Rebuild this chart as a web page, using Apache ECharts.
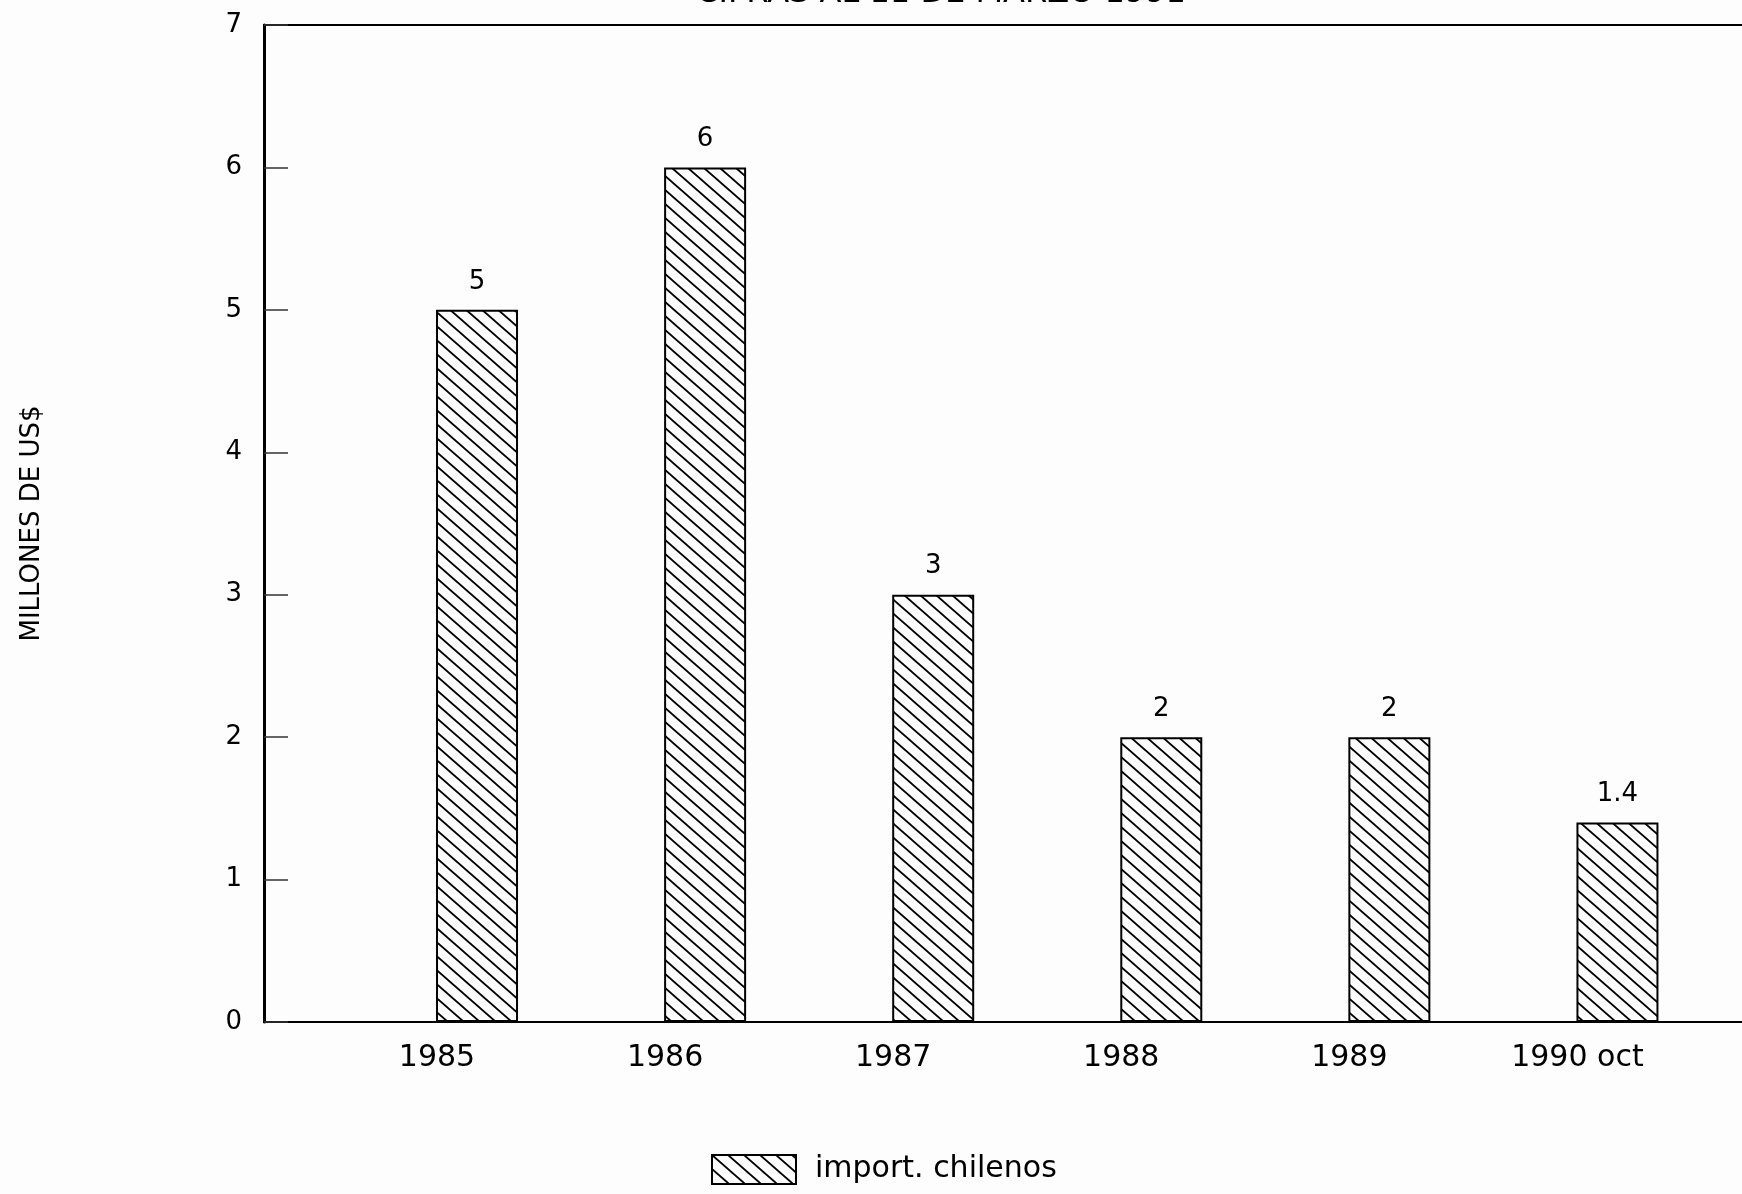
<!DOCTYPE html>
<html><head><meta charset="utf-8">
<script src="https://cdn.jsdelivr.net/npm/echarts@6/dist/echarts.min.js"></script>
<style>html,body{margin:0;padding:0;background:#fdfdfd}#c{width:1742px;height:1194px}</style>
</head><body><div id="c"></div>
<script>
const categories = ['1985', '1986', '1987', '1988', '1989', '1990 oct'];
const imports = [5, 6, 3, 2, 2, 1.4];
const seriesName = 'import. chilenos';
const yTitle = 'MILLONES DE US$';
const topTitle = 'CIFRAS AL 11 DE MARZO 1991';
const categoryIndex = categories.map((c, i) => i);

function hatch() {
  const c = document.createElement('canvas');
  c.width = 16; c.height = 14;
  const g = c.getContext('2d');
  g.fillStyle = '#fdfdfd'; g.fillRect(0, 0, 16, 14);
  g.strokeStyle = '#000'; g.lineWidth = 1.8;
  for (const dx of [-16, 0, 16]) {
    g.beginPath(); g.moveTo(dx - 16, -14); g.lineTo(dx + 32, 28); g.stroke();
  }
  return c;
}
const FONT = 'DejaVu Sans';
const chart = echarts.init(document.getElementById('c'), null, {renderer: 'canvas'});
chart.setOption({
  backgroundColor: '#fdfdfd',
  animation: false,
  textStyle: {fontFamily: FONT, color: '#000'},
  graphic: [{
    type: 'text', x: 941, y: -22,
    style: {text: topTitle, align: 'center', verticalAlign: 'top', fontSize: 32, fontFamily: FONT, fill: '#000'}
  }],
  grid: {left: 264, right: -5, top: 25, bottom: 172, show: true, borderColor: '#000', borderWidth: 2,
    backgroundColor: 'transparent', outerBoundsMode: 'none', containLabel: false},
  legend: {
    data: [seriesName], left: 706, top: 1149, itemWidth: 84, itemHeight: 29, icon: 'rect',
    textStyle: {fontSize: 30, fontFamily: FONT, color: '#000', padding: [0, 0, 0, 14]}
  },
  xAxis: {
    type: 'value', min: -0.934, max: 5.568,
    axisLine: {show: true, onZero: false, lineStyle: {color: '#000', width: 2}},
    axisTick: {show: false},
    splitLine: {show: false},
    axisLabel: {
      customValues: categoryIndex,
      formatter: v => categories[Math.round(v)],
      fontSize: 30, color: '#000', fontFamily: FONT, margin: 21, padding: [0, 80, 0, 0]
    }
  },
  yAxis: {
    type: 'value', min: 0, max: 7, interval: 1,
    name: yTitle, nameLocation: 'middle', nameGap: 219, nameRotate: 90,
    nameTextStyle: {fontSize: 26, color: '#000', fontFamily: FONT},
    axisLine: {show: true, onZero: false, lineStyle: {color: '#000', width: 3}},
    axisTick: {show: true, inside: true, length: 24, lineStyle: {color: '#333', width: 1.5}},
    axisLabel: {fontSize: 26, color: '#000', margin: 22, fontFamily: FONT},
    splitLine: {show: false}
  },
  series: [{
    name: seriesName, type: 'bar', barWidth: 82,
    data: imports.map((v, i) => [i, v]),
    itemStyle: {color: {image: hatch(), repeat: 'repeat'}, borderColor: '#000', borderWidth: 2},
    label: {show: true, position: 'top', distance: 15, fontSize: 26, color: '#000', fontFamily: FONT,
      formatter: p => String(p.value[1])}
  }]
});
</script></body></html>
